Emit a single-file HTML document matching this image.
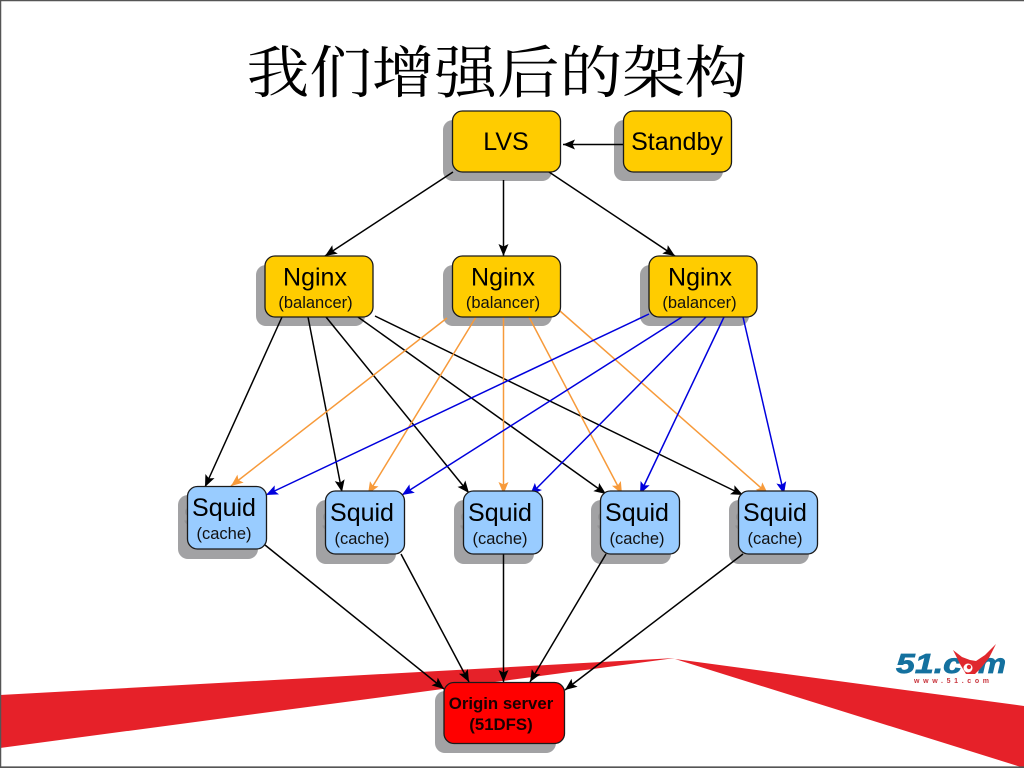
<!DOCTYPE html>
<html><head><meta charset="utf-8"><style>
html,body{margin:0;padding:0;background:#fff;width:1024px;height:768px;overflow:hidden}
svg{display:block}
text{font-family:"Liberation Sans",sans-serif;text-anchor:middle;fill:#000}
.big{font-size:25px}.sm{font-size:16.5px;fill:#111}
.org{font-size:16.8px;font-weight:bold;fill:#1a0000}
.n{stroke:#1a1a1a;stroke-width:1.3}
.sh{fill:#a2a2a4}
.gh{fill:#949496}
</style></head><body>
<svg width="1024" height="768" viewBox="0 0 1024 768" xmlns="http://www.w3.org/2000/svg">
<defs>
<marker id="k" markerUnits="userSpaceOnUse" markerWidth="13" markerHeight="11" refX="12" refY="5.500" orient="auto"><path d="M0 0.500L12 5.500L0 10.500L2.500 5.500Z" fill="#000"/></marker>
<marker id="o" markerUnits="userSpaceOnUse" markerWidth="13" markerHeight="11" refX="12" refY="5.500" orient="auto"><path d="M0 0.500L12 5.500L0 10.500L2.500 5.500Z" fill="#f79a3a"/></marker>
<marker id="b" markerUnits="userSpaceOnUse" markerWidth="13" markerHeight="11" refX="12" refY="5.500" orient="auto"><path d="M0 0.500L12 5.500L0 10.500L2.500 5.500Z" fill="#0000dd"/></marker>
</defs>
<rect width="1024" height="768" fill="#fff"/>
<path d="M0 695L675 658L0 748Z" fill="#e62129"/>
<path d="M675 659L1024 706L1024 768L1021 767Z" fill="#e62129"/>
<path d="M0.500 768V0.500H1024" fill="none" stroke="#555" stroke-width="1.500"/>
<path d="M0 767.200H1024" stroke="#555" stroke-width="1.600"/>

<text transform="translate(497,92.700) scale(1.010,0.920)" x="0" y="0" style="font-family:'Noto Serif CJK SC','Liberation Serif',serif;font-size:62px">我们增强后的架构</text>

<!-- shadows -->
<g class="sh">
<rect x="443" y="120" width="109" height="61" rx="10"/>
<rect x="614" y="120" width="109" height="61" rx="10"/>
<rect x="256" y="265" width="109" height="61" rx="10"/>
<rect x="443" y="265" width="109" height="61" rx="10"/>
<rect x="640" y="265" width="109" height="61" rx="10"/>
<rect x="178" y="495" width="80" height="64" rx="10"/>
<rect x="316" y="500" width="80" height="64" rx="10"/>
<rect x="454" y="500" width="80" height="64" rx="10"/>
<rect x="591" y="500" width="80" height="64" rx="10"/>
<rect x="729" y="500" width="80" height="64" rx="10"/>
<rect x="435" y="691" width="121" height="62" rx="10"/>
</g>
<text class="big gh" x="215" y="525">Squid</text>
<text class="big gh" x="353" y="530">Squid</text>
<text class="big gh" x="491" y="530">Squid</text>
<text class="big gh" x="628" y="530">Squid</text>
<text class="big gh" x="766" y="530">Squid</text>

<!-- connectors -->
<g stroke="#000" stroke-width="1.500" fill="none">
<line x1="453" y1="172" x2="325" y2="256" marker-end="url(#k)"/>
<line x1="503.500" y1="180" x2="503.500" y2="256" marker-end="url(#k)"/>
<line x1="549" y1="172" x2="675" y2="256" marker-end="url(#k)"/>
<line x1="623" y1="144.500" x2="563" y2="144.500" marker-end="url(#k)"/>
<line x1="282" y1="317" x2="205" y2="487" marker-end="url(#k)"/>
<line x1="308" y1="317" x2="342" y2="492" marker-end="url(#k)"/>
<line x1="326" y1="317" x2="469" y2="493" marker-end="url(#k)"/>
<line x1="358" y1="317" x2="606" y2="494" marker-end="url(#k)"/>
<line x1="375" y1="316" x2="743" y2="495" marker-end="url(#k)"/>
<line x1="265" y1="545" x2="444" y2="689" marker-end="url(#k)"/>
<line x1="401" y1="554" x2="469" y2="682" marker-end="url(#k)"/>
<line x1="503.500" y1="554" x2="503.500" y2="682" marker-end="url(#k)"/>
<line x1="606" y1="554" x2="530" y2="682" marker-end="url(#k)"/>
<line x1="743" y1="554" x2="565" y2="690" marker-end="url(#k)"/>
</g>
<g stroke="#f79a3a" stroke-width="1.500" fill="none">
<line x1="447" y1="318" x2="231" y2="486" marker-end="url(#o)"/>
<line x1="476" y1="317" x2="368" y2="494" marker-end="url(#o)"/>
<line x1="503.500" y1="317" x2="503.500" y2="494" marker-end="url(#o)"/>
<line x1="529" y1="317" x2="622" y2="494" marker-end="url(#o)"/>
<line x1="560" y1="311" x2="768" y2="494" marker-end="url(#o)"/>
</g>
<g stroke="#0000dd" stroke-width="1.500" fill="none">
<line x1="649" y1="314" x2="266" y2="495" marker-end="url(#b)"/>
<line x1="682" y1="317" x2="402" y2="495" marker-end="url(#b)"/>
<line x1="706" y1="317" x2="530" y2="495" marker-end="url(#b)"/>
<line x1="724" y1="317" x2="640" y2="494" marker-end="url(#b)"/>
<line x1="743" y1="317" x2="784" y2="494" marker-end="url(#b)"/>
</g>

<!-- nodes -->
<g class="n" fill="#ffcc00">
<rect x="452.500" y="111" width="108" height="61" rx="10"/>
<rect x="623.500" y="111" width="108" height="61" rx="10"/>
<rect x="265" y="256" width="108" height="61" rx="10"/>
<rect x="452.500" y="256" width="108" height="61" rx="10"/>
<rect x="649" y="256" width="108" height="61" rx="10"/>
</g>
<g class="n" fill="#99ccff">
<rect x="187.500" y="486.500" width="79" height="62.500" rx="10"/>
<rect x="325.500" y="491" width="79" height="63" rx="10"/>
<rect x="463.500" y="491" width="79" height="63" rx="10"/>
<rect x="600.500" y="491" width="79" height="63" rx="10"/>
<rect x="738.500" y="491" width="79" height="63" rx="10"/>
</g>
<rect class="n" x="444" y="682.500" width="120.500" height="61" rx="10" fill="#ff0000"/>

<text class="big" x="506" y="150">LVS</text>
<text class="big" x="677" y="150">Standby</text>
<text class="big" x="315" y="285.500">Nginx</text><text class="sm" x="315.500" y="308">(balancer)</text>
<text class="big" x="503" y="285.500">Nginx</text><text class="sm" x="503" y="308">(balancer)</text>
<text class="big" x="700" y="285.500">Nginx</text><text class="sm" x="699.500" y="308">(balancer)</text>
<text class="big" x="224" y="516">Squid</text><text class="sm" x="224" y="539">(cache)</text>
<text class="big" x="362" y="521">Squid</text><text class="sm" x="362" y="544">(cache)</text>
<text class="big" x="500" y="521">Squid</text><text class="sm" x="500" y="544">(cache)</text>
<text class="big" x="637" y="521">Squid</text><text class="sm" x="637" y="544">(cache)</text>
<text class="big" x="775" y="521">Squid</text><text class="sm" x="775" y="544">(cache)</text>
<text class="org" x="501" y="709">Origin server</text>
<text class="org" x="501" y="730">(51DFS)</text>

<!-- logo -->
<text x="896" y="673" textLength="66" lengthAdjust="spacingAndGlyphs" style="text-anchor:start;font-size:28px;font-weight:bold;font-style:italic;fill:#14719f;stroke:#14719f;stroke-width:.7px">51.c</text>
<text x="978" y="673" textLength="28" lengthAdjust="spacingAndGlyphs" style="text-anchor:start;font-size:28px;font-weight:bold;font-style:italic;fill:#14719f;stroke:#14719f;stroke-width:.7px">m</text>
<path d="M953 650L962 657L970 660L976 661L985 655L996 644L989 658L981 668L975 674L966 674L960 664Z" fill="#e0282e"/>
<circle cx="968" cy="668" r="4.500" fill="#fff"/>
<circle cx="969" cy="667" r="2.200" fill="#e0282e"/>
<text x="914" y="683" textLength="75" style="text-anchor:start;font-size:7px;font-weight:bold;fill:#c8343c">www.51.com</text>
</svg>
</body></html>
